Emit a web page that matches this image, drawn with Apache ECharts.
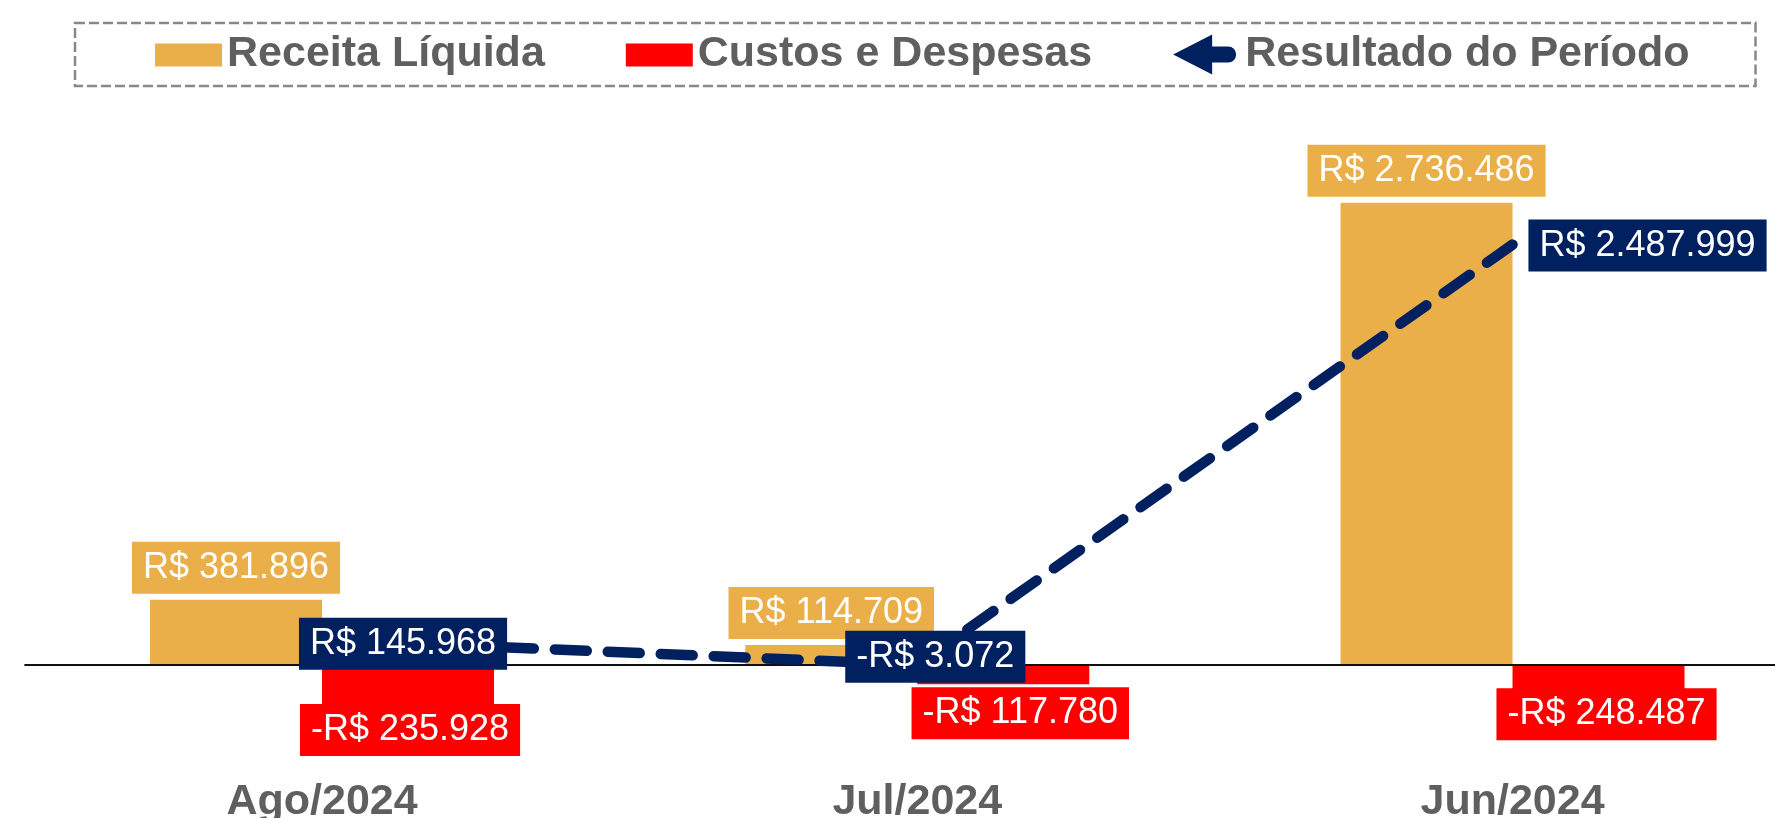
<!DOCTYPE html>
<html><head><meta charset="utf-8">
<script src="https://cdn.jsdelivr.net/npm/echarts@6/dist/echarts.min.js"></script>
<style>html,body{margin:0;padding:0;background:#fff}#c{width:1775px;height:818px}</style>
</head><body><div id="c"></div>
<script>
const categories = ['Ago/2024', 'Jul/2024', 'Jun/2024'];
const receitaLiquida = [381896, 114709, 2736486];
const custosDespesas = [-235928, -117780, -248487];
const resultadoPeriodo = [145968, -3072, 2487999];
const seriesNames = ['Receita Líquida', 'Custos e Despesas', 'Resultado do Período'];

const custosLabelOffsets = [[2, 0], [17, 3], [8, -18]];
const resultadoLabelOffsets = [[81, 4], [18, -8], [135, 1]];

const GOLD = '#EAAF48', RED = '#FF0000', NAVY = '#002060', GRAY = '#5f5f5f';
const FONT = '"Liberation Sans", Arial, sans-serif';

function brl(v) {
  const s = Math.abs(v).toString().replace(/\B(?=(\d{3})+(?!\d))/g, '.');
  return (v < 0 ? '-' : '') + 'R$ ' + s;
}
const lblBase = { show: true, color: '#fff', fontSize: 36, fontFamily: FONT, lineHeight: 38, padding: [7, 11],
  formatter: p => brl(p.value) };

const RECT_ICON = 'path://M0,0M67,42M0,10L67,10L67,33L0,33Z';
const ARROW_ICON = 'path://M0,0M67,42M0,21L39,1L39,13L55,13A8,8 0 0 1 55,29L39,29L39,41Z';

const chart = echarts.init(document.getElementById('c'), null, { renderer: 'canvas' });
chart.setOption({
  animation: false,
  backgroundColor: '#fff',
  legend: {
    left: 75, top: 23,
    padding: [10, 66, 10, 80],
    itemGap: 81,
    itemWidth: 67, itemHeight: 42,
    borderColor: '#888888', borderWidth: 2.5, borderType: [10, 4],
    textStyle: { color: GRAY, fontSize: 43, fontWeight: 'bold', fontFamily: FONT },
    data: [
      { name: seriesNames[0], icon: RECT_ICON, itemStyle: { color: GOLD } },
      { name: seriesNames[1], icon: RECT_ICON, itemStyle: { color: RED } },
      { name: seriesNames[2], icon: ARROW_ICON, itemStyle: { color: NAVY } }
    ]
  },
  grid: { left: 24.4, width: 1785.75, top: 73.9, height: 674.7, outerBoundsMode: 'none', containLabel: false },
  xAxis: {
    type: 'category', data: categories,
    axisLine: { show: false, onZero: false },
    axisTick: { show: false },
    axisLabel: { margin: 32, color: GRAY, fontSize: 43, fontWeight: 'bold', fontFamily: FONT },
    splitLine: { show: false }
  },
  yAxis: { type: 'value', min: -500000, max: 3500000, show: false, splitLine: { show: false } },
  series: [
    {
      name: seriesNames[0], type: 'bar', barWidth: 172, barGap: '0%',
      itemStyle: { color: GOLD },
      data: receitaLiquida,
      label: Object.assign({}, lblBase, { position: 'top', distance: 6, backgroundColor: GOLD }),
      markLine: {
        silent: true, symbol: 'none', label: { show: false },
        lineStyle: { color: '#111', width: 1.8, type: 'solid' },
        data: [{ yAxis: 0 }]
      }
    },
    {
      name: seriesNames[1], type: 'bar', barWidth: 172, barGap: '0%',
      itemStyle: { color: RED },
      data: custosDespesas.map((v, i) => ({ value: v, label: { offset: custosLabelOffsets[i] } })),
      label: Object.assign({}, lblBase, { position: 'bottom', distance: 0, backgroundColor: RED })
    },
    {
      name: seriesNames[2], type: 'line',
      symbol: 'circle', symbolSize: 0.1,
      itemStyle: { color: NAVY },
      lineStyle: { color: NAVY, width: 10.5, type: [32, 21], dashOffset: 32, cap: 'round' },
      data: resultadoPeriodo.map((v, i) => ({ value: v, label: { offset: resultadoLabelOffsets[i] } })),
      label: Object.assign({}, lblBase, { position: 'inside', backgroundColor: NAVY }),
      z: 5
    }
  ]
});
</script>
</body></html>
